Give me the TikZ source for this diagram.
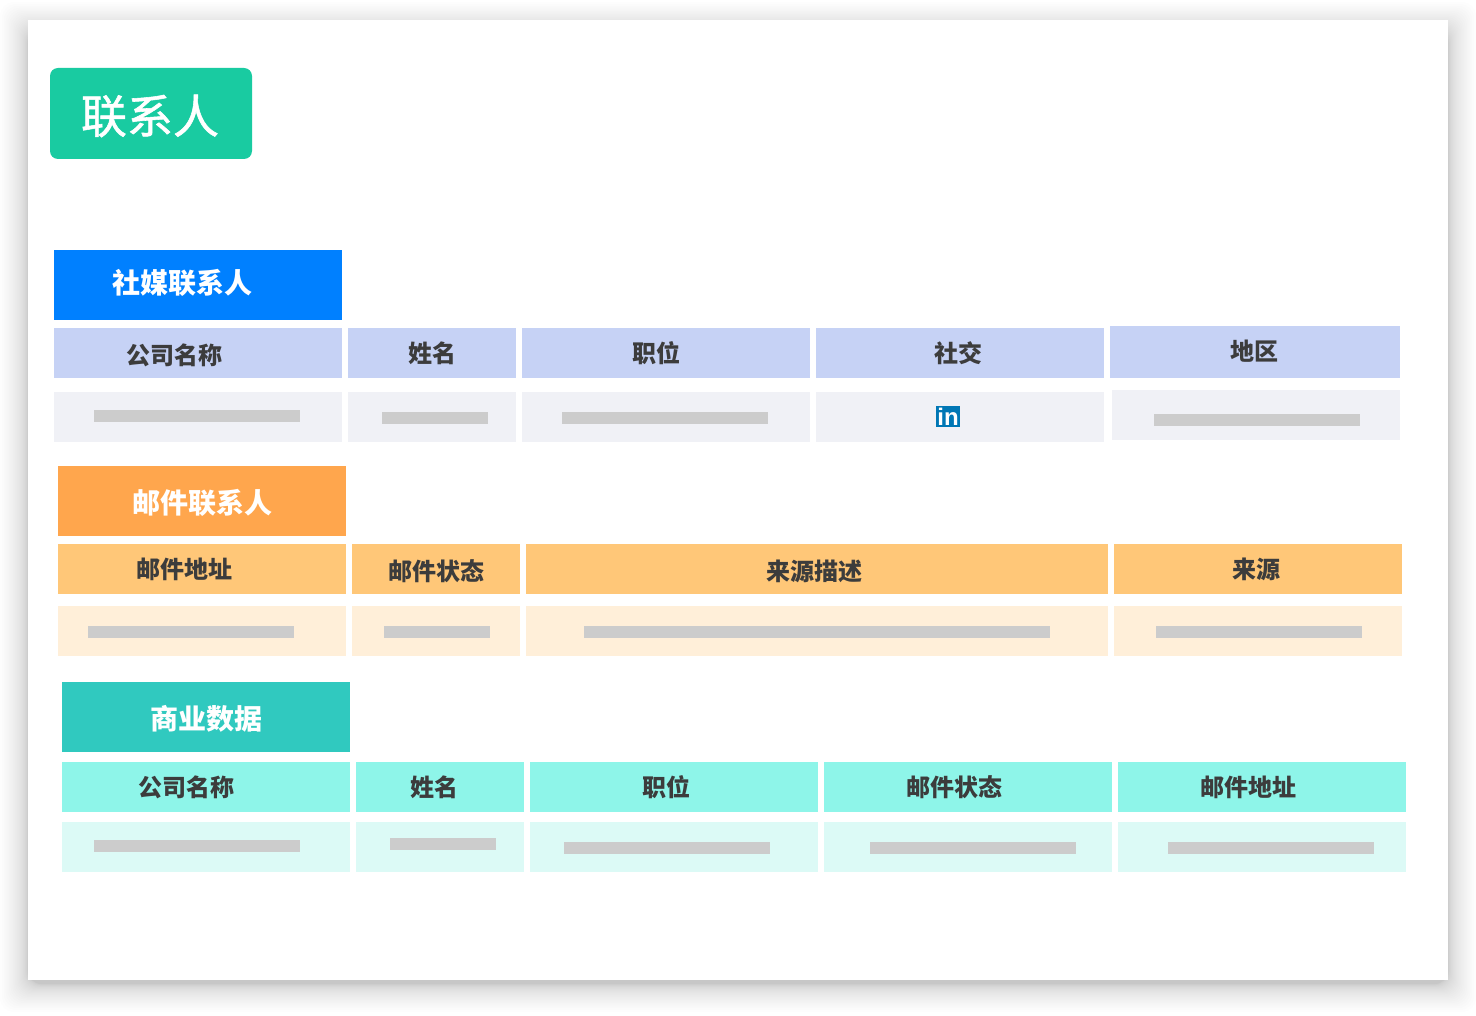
\documentclass[tikz,border=0pt]{standalone}
\usepackage{fontspec}
\setmainfont{Noto Sans CJK SC}
\newfontfamily\titlefont[FakeBold=1.2]{Noto Sans CJK SC}
\usepackage{xcolor}
\definecolor{TitleGreen}{HTML}{19CBA1}
\definecolor{SocialBlue}{HTML}{0080FF}
\definecolor{SocialHead}{HTML}{C6D2F5}
\definecolor{SocialCell}{HTML}{F0F1F6}
\definecolor{MailOrange}{HTML}{FFA64D}
\definecolor{MailHead}{HTML}{FFC778}
\definecolor{MailCell}{HTML}{FFEFD9}
\definecolor{BizTeal}{HTML}{30C9BF}
\definecolor{BizHead}{HTML}{8EF5E9}
\definecolor{BizCell}{HTML}{DCFAF6}
\definecolor{BarGray}{HTML}{CCCCCC}
\definecolor{HeadText}{HTML}{3C3C3C}
\definecolor{LinkedBlue}{HTML}{0077B5}

\begin{document}
\begin{tikzpicture}[
    x=1pt, y=-1pt,
    every node/.style={inner sep=0pt, outer sep=0pt},
    box/.style={anchor=north west, minimum width=#1},
    box/.default=288pt,
    section/.style={box, minimum height=70pt, text=white, font=\fontsize{28}{28}\selectfont\bfseries},
    headcell/.style={minimum height=50pt},
    datacell/.style={minimum height=50pt},
    label/.style={text=HeadText, font=\fontsize{24}{24}\selectfont\bfseries},
    secname/.style={text=white, font=\fontsize{28}{28}\selectfont\bfseries},
    bar/.style={anchor=north west, fill=BarGray, minimum height=12pt, minimum width=#1},
    bar/.default=206pt,
    shortbar/.style={bar=106pt}
  ]
    \useasboundingbox (0,0) rectangle (1476,1016);
    % page and its soft shadow
    \fill[white] (0,0) rectangle (1476,1016);
    \foreach \s in {1,...,28}
      \fill[black, opacity=0.008, rounded corners=14pt]
        (28-\s*\s/28,30-\s*\s/28) rectangle (1448+\s*\s/28,984+\s*\s/28);
    \fill[white] (28,20) rectangle (1448,980);

    \node[fill=TitleGreen, rounded corners=8pt, anchor=north west, minimum width=202pt, minimum height=91pt] (title) at (50,68) {};
    \node[text=white, font=\titlefont\fontsize{46}{46}\selectfont] (titlename) at (150,116) {联系人};

    % social contacts
    \node[section, fill=SocialBlue] (social) at (54,250) {};
    \node[secname] (socialname) at (182,282.5) {社媒联系人};
    \node[box, headcell, fill=SocialHead] (sh1) at (54,328) {};
    \node[box=168pt, headcell, fill=SocialHead] (sh2) at (348,328) {};
    \node[box, headcell, fill=SocialHead] (sh3) at (522,328) {};
    \node[box, headcell, fill=SocialHead] (sh4) at (816,328) {};
    \node[box=290pt, minimum height=52pt, fill=SocialHead] (sh5) at (1110,326) {};
    \node[label] (sl1) at (174,355) {公司名称};
    \node[label] (sl2) at (432,353) {姓名};
    \node[label] (sl3) at (656,353) {职位};
    \node[label] (sl4) at (958,353) {社交};
    \node[label] (sl5) at (1254,351) {地区};
    \node[box, datacell, fill=SocialCell] (sc1) at (54,392) {};
    \node[box=168pt, datacell, fill=SocialCell] (sc2) at (348,392) {};
    \node[box, datacell, fill=SocialCell] (sc3) at (522,392) {};
    \node[box, datacell, fill=SocialCell] (sc4) at (816,392) {};
    \node[box, datacell, fill=SocialCell] (sc5) at (1112,390) {};
    \node[bar] (sb1) at (94,410) {};
    \node[shortbar] (sb2) at (382,412) {};
    \node[bar] (sb3) at (562,412) {};
    \node[fill=LinkedBlue, anchor=north west, minimum width=24pt, minimum height=21pt, text=white,
      text width=24pt, align=center,
      font=\fontsize{24}{24}\fontspec{Liberation Sans}\bfseries] (linkedin) at (936,406) {in};
    \node[bar] (sb5) at (1154,414) {};

    % mail contacts
    \node[section, fill=MailOrange] (mail) at (58,466) {};
    \node[secname] (mailname) at (202,502.5) {邮件联系人};
    \node[box, headcell, fill=MailHead] (mh1) at (58,544) {};
    \node[box=168pt, headcell, fill=MailHead] (mh2) at (352,544) {};
    \node[box=582pt, headcell, fill=MailHead] (mh3) at (526,544) {};
    \node[box, headcell, fill=MailHead] (mh4) at (1114,544) {};
    \node[label] (ml1) at (184,569) {邮件地址};
    \node[label] (ml2) at (436,571) {邮件状态};
    \node[label] (ml3) at (814,571) {来源描述};
    \node[label] (ml4) at (1256,569) {来源};
    \node[box, datacell, fill=MailCell] (mc1) at (58,606) {};
    \node[box=168pt, datacell, fill=MailCell] (mc2) at (352,606) {};
    \node[box=582pt, datacell, fill=MailCell] (mc3) at (526,606) {};
    \node[box, datacell, fill=MailCell] (mc4) at (1114,606) {};
    \node[bar] (mb1) at (88,626) {};
    \node[shortbar] (mb2) at (384,626) {};
    \node[bar=466pt] (mb3) at (584,626) {};
    \node[bar] (mb4) at (1156,626) {};

    % business data
    \node[section, fill=BizTeal] (biz) at (62,682) {};
    \node[secname] (bizname) at (206,718.5) {商业数据};
    \node[box, headcell, fill=BizHead] (bh1) at (62,762) {};
    \node[box=168pt, headcell, fill=BizHead] (bh2) at (356,762) {};
    \node[box, headcell, fill=BizHead] (bh3) at (530,762) {};
    \node[box, headcell, fill=BizHead] (bh4) at (824,762) {};
    \node[box, headcell, fill=BizHead] (bh5) at (1118,762) {};
    \node[label] (bl1) at (186,787) {公司名称};
    \node[label] (bl2) at (434,787) {姓名};
    \node[label] (bl3) at (666,787) {职位};
    \node[label] (bl4) at (954,787) {邮件状态};
    \node[label] (bl5) at (1248,787) {邮件地址};
    \node[box, datacell, fill=BizCell] (bc1) at (62,822) {};
    \node[box=168pt, datacell, fill=BizCell] (bc2) at (356,822) {};
    \node[box, datacell, fill=BizCell] (bc3) at (530,822) {};
    \node[box, datacell, fill=BizCell] (bc4) at (824,822) {};
    \node[box, datacell, fill=BizCell] (bc5) at (1118,822) {};
    \node[bar] (bb1) at (94,840) {};
    \node[shortbar] (bb2) at (390,838) {};
    \node[bar] (bb3) at (564,842) {};
    \node[bar] (bb4) at (870,842) {};
    \node[bar] (bb5) at (1168,842) {};
\end{tikzpicture}
\end{document}
